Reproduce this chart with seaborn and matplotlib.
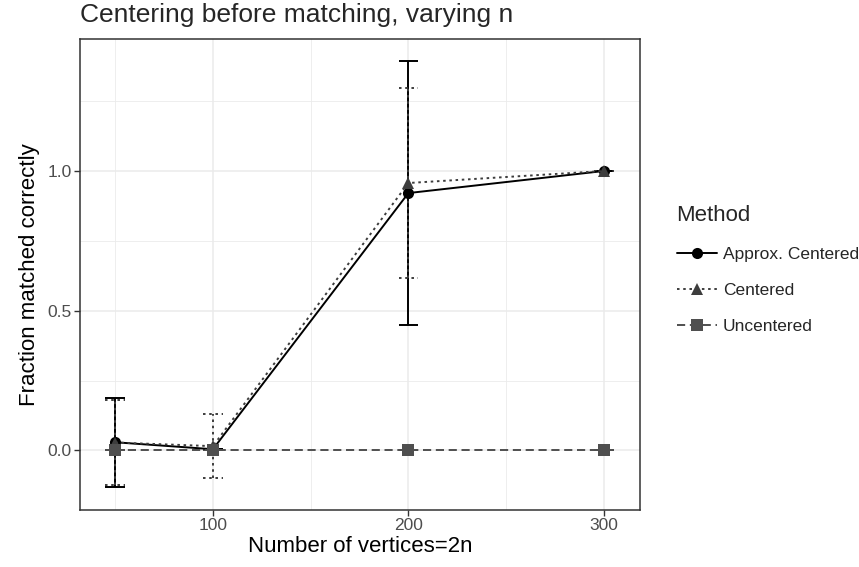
import matplotlib
matplotlib.use("Agg")
import matplotlib.pyplot as plt
from matplotlib.lines import Line2D
from matplotlib.ticker import FixedLocator
import pandas as pd
import seaborn as sns

# Number of vertices (2n) on the x axis
vertices = [50, 100, 200, 300]

# Mean fraction matched correctly and its standard deviation, per method
approx_mean = [0.029, 0.004, 0.921, 1.0]
approx_sd = [0.160, 0.0, 0.471, 0.0]
centered_mean = [0.028, 0.015, 0.957, 1.0]
centered_sd = [0.153, 0.115, 0.340, 0.0]
uncentered_mean = [0.0, 0.0, 0.0, 0.0]
uncentered_sd = [0.0, 0.0, 0.0, 0.0]

methods = ["Approx. Centered", "Centered", "Uncentered"]
colors = {"Approx. Centered": "#000000", "Centered": "#3d3d3d", "Uncentered": "#4f4f4f"}
markers = {"Approx. Centered": "o", "Centered": "^", "Uncentered": "s"}
dashes = {"Approx. Centered": "", "Centered": (1.3, 1.9), "Uncentered": (4.2, 2.4)}

df = pd.DataFrame({
    "n": vertices * 3,
    "frac": approx_mean + centered_mean + uncentered_mean,
    "sd": approx_sd + centered_sd + uncentered_sd,
    "Method": [m for m in methods for _ in vertices],
})

sns.set_theme(style="white")
plt.rcParams["font.family"] = ["Liberation Sans", "DejaVu Sans"]

fig = plt.figure(figsize=(8.59, 5.67), dpi=100)
ax = fig.add_axes([80 / 859, 57 / 567, 560 / 859, 471 / 567])

lw = 1.4
# error bars with caps of width 10 on the x scale
for m in methods:
    d = df[df["Method"] == m]
    lo = d["frac"] - d["sd"]
    hi = d["frac"] + d["sd"]
    ls = "-" if dashes[m] == "" else (0, dashes[m])
    ax.vlines(d["n"], lo, hi, color=colors[m], linewidth=lw, linestyles=[ls], zorder=3)
    for y in (lo, hi):
        ax.hlines(y, d["n"] - 5, d["n"] + 5, color=colors[m], linewidth=lw,
                  linestyles=[ls], zorder=3)

sns.lineplot(data=df, x="n", y="frac", hue="Method", style="Method",
             palette=colors, markers=markers, dashes=dashes, hue_order=methods,
             style_order=methods, linewidth=lw, markersize=8, markeredgewidth=0,
             legend=False, errorbar=None, ax=ax, zorder=4)

ax.set_xlim(32, 318.5)
ax.set_ylim(-0.2135, 1.4725)
ax.set_xticks([100, 200, 300])
ax.set_yticks([0.0, 0.5, 1.0])
ax.set_yticklabels(["0.0", "0.5", "1.0"])
ax.xaxis.set_minor_locator(FixedLocator([50, 150, 250]))
ax.yaxis.set_minor_locator(FixedLocator([0.25, 0.75, 1.25]))
ax.grid(True, which="major", color="#ebebeb", linewidth=1.1)
ax.grid(True, which="minor", color="#ebebeb", linewidth=0.6)
ax.set_axisbelow(True)
ax.tick_params(axis="both", which="major", length=4, width=1.0, color="#333333",
               labelsize=12.5, labelcolor="#4d4d4d", pad=2, bottom=True, left=True)
ax.tick_params(axis="both", which="minor", length=0)
for s in ax.spines.values():
    s.set_color("#333333")
    s.set_linewidth(1.1)

ax.set_xlabel("Number of vertices=2n", fontsize=16, color="black", labelpad=2)
ax.set_ylabel("Fraction matched correctly", fontsize=16, color="black", labelpad=5)
fig.text(80 / 859, 1 - 22 / 567, "Centering before matching, varying n",
         fontsize=19, ha="left", va="baseline")

handles = []
for m in methods:
    ls = "-" if dashes[m] == "" else (0, dashes[m])
    handles.append(Line2D([], [], color=colors[m], linestyle=ls, linewidth=lw,
                          marker=markers[m], markersize=8, markeredgewidth=0))
leg = fig.legend(handles, methods, title="Method", loc="upper left",
                 bbox_to_anchor=(661 / 859, 1 - 189 / 567), frameon=False,
                 fontsize=12.5, title_fontsize=16, handlelength=2.3,
                 handletextpad=0.35, labelspacing=1.2, alignment="left")

fig.savefig("out.png", dpi=100)
